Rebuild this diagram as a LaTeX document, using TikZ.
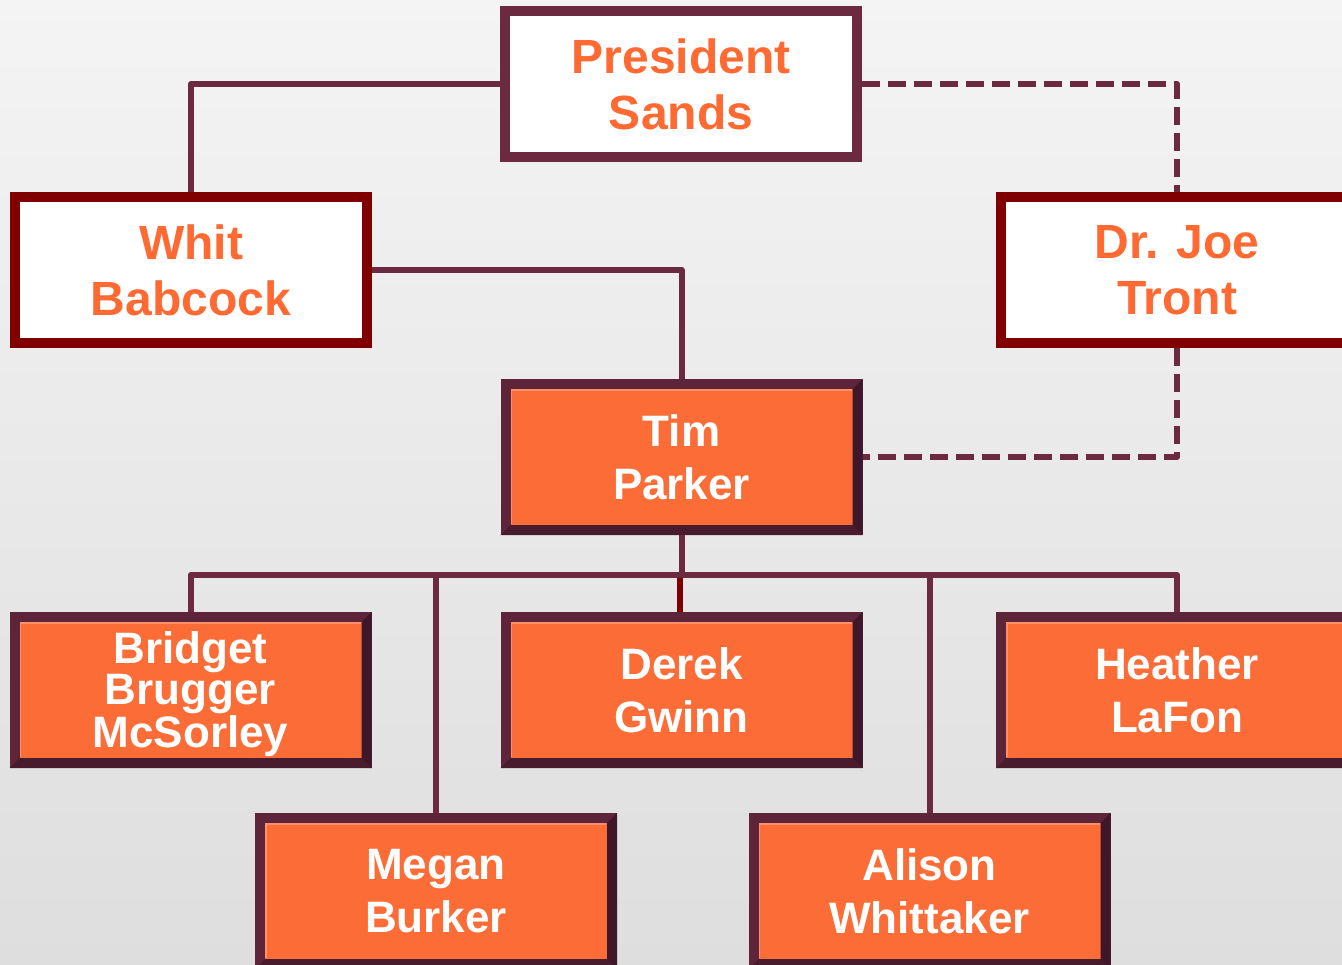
\documentclass[tikz,border=0pt]{standalone}
\usepackage{fontspec}
\setmainfont{Liberation Sans}
\usetikzlibrary{calc}
\definecolor{bgtop}{HTML}{F4F4F4}
\definecolor{bgbot}{HTML}{DEDEDE}
\definecolor{plum}{HTML}{6B2A40}
\definecolor{frred}{HTML}{800000}
\definecolor{orangefill}{HTML}{FB6C37}
\definecolor{orangetext}{HTML}{FF6A33}
\definecolor{framedark}{HTML}{3E1828}
\definecolor{framemid}{HTML}{5E2439}
\tikzset{
  topbox/.style={rectangle, draw=#1, fill=white, line width=5pt,
    minimum width=176pt, minimum height=73pt, inner sep=0pt, align=center,
    text=orangetext, font=\fontsize{24}{28}\selectfont\bfseries},
  orgbox/.style={rectangle, draw=framemid, fill=orangefill, line width=5pt,
    minimum width=176pt, minimum height=73pt, inner sep=0pt, align=center,
    text=white, font=\fontsize{22}{26.5}\selectfont\bfseries},
  boxtext/.style={inner sep=0pt, align=center, text=white, font=\fontsize{22}{20.5}\selectfont\bfseries},
  link/.style={draw=plum, line width=3pt, line join=round},
  redlink/.style={draw=frred, line width=3pt},
  dashlink/.style={draw=plum, line width=3pt, line join=round, dash pattern=on 9pt off 4pt},
}
\newcommand{\bevelbox}[1]{%
  \fill[framedark] (#1.north east) -- (#1.south east) -- ($(#1.south east)+(-10,-10)$) -- ($(#1.north east)+(-10,10)$) -- cycle;
  \fill[framedark!70!framemid] (#1.south west) -- (#1.south east) -- ($(#1.south east)+(-10,-10)$) -- ($(#1.south west)+(10,-10)$) -- cycle;
  \draw[orangefill!75!white, line width=0.6pt] ($(#1.south west)+(11,-11)$) -- ($(#1.north west)+(11,11)$) -- ($(#1.north east)+(-11,11)$);
}
\begin{document}
\begin{tikzpicture}[x=0.5pt,y=-0.5pt]
\useasboundingbox (0,0) rectangle (1342,964);
\clip (0,0) rectangle (1342,964);
\shade[top color=bgtop,bottom color=bgbot] (0,0) rectangle (1342,964);

\node[topbox=plum] (pres) at (681,84) {President\\Sands};
\node[topbox=frred] (whit) at (191,270) {Whit\\Babcock};
\node[topbox=frred] (joe) at (1177,270) {Dr. Joe\\Tront};

\node[orgbox] (tim) at (681.5,457) {Tim\\Parker};
\node[orgbox] (bridget) at (190.5,690) {};
\node[orgbox] (derek) at (681.5,690) {Derek\\Gwinn};
\node[orgbox] (heather) at (1177,690) {Heather\\LaFon};
\node[orgbox] (megan) at (436,891) {Megan\\Burker};
\node[orgbox] (alison) at (929.5,891) {Alison\\Whittaker};

\bevelbox{tim}
\bevelbox{bridget}
\bevelbox{derek}
\bevelbox{heather}
\bevelbox{megan}
\bevelbox{alison}
\node[boxtext] (bridgettext) at ([yshift=-2pt]bridget.center) {Bridget\\Brugger\\McSorley};

\coordinate (bus) at (681,575);
\draw[link] (pres.west) -| (whit.north);
\draw[link] (whit.east) -| (tim.north);
\draw[dashlink] (pres.east) -| (joe.north);
\draw[dashlink] (joe.south) |- (tim.east);
\draw[link] (tim.south) -- (tim.south |- bus);
\draw[redlink] ([xshift=-1pt]derek.north) -- ([xshift=-1pt]derek.north |- bus);
\draw[link] (bridget.north) -- (bridget.north |- bus) -- (heather.north |- bus) -- (heather.north);
\draw[link] (megan.north) -- (megan.north |- bus);
\draw[link] (alison.north) -- (alison.north |- bus);
\end{tikzpicture}
\end{document}
